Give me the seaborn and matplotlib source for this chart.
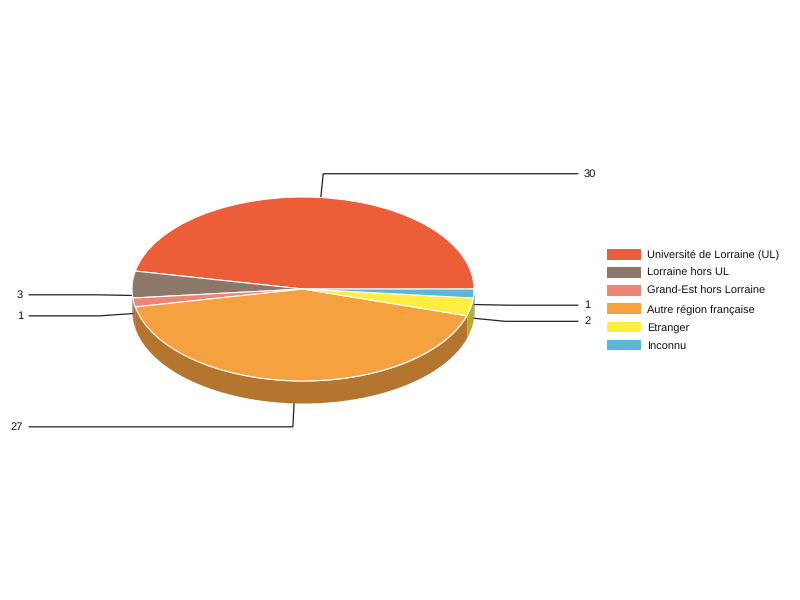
import numpy as np
import matplotlib
matplotlib.use("Agg")
import matplotlib.pyplot as plt
import seaborn as sns
from matplotlib.patches import Patch

labels = [
    "Université de Lorraine (UL)",
    "Lorraine hors UL",
    "Grand-Est hors Lorraine",
    "Autre région française",
    "Etranger",
    "Inconnu",
]
counts = [30, 3, 1, 27, 2, 1]
hex_colors = ["#EB5E38", "#8C7868", "#EF8577", "#F6A13F", "#FFED3F", "#5EB6D6"]

sns.set_theme(style="white")
plt.rcParams["font.family"] = ["Liberation Sans", "DejaVu Sans"]
plt.rcParams["text.hinting"] = "no_hinting"
plt.rcParams["text.kerning_factor"] = 6

palette = sns.color_palette(hex_colors)
side_palette = [tuple(c * 0.73 for c in col) for col in palette]

# pie geometry in pixels, the axes is scaled so the unit circle comes out as the ellipse
cx, cy, rx, ry, depth = 303, 289, 171, 92, 22
W, H = 800, 600

fig = plt.figure(figsize=(8, 6), dpi=100)
ax = fig.add_axes([0, 0, 1, 1])

shares = np.array(counts) / sum(counts) * 360
edges = np.concatenate([[0], np.cumsum(shares)])
mids = (edges[:-1] + edges[1:]) / 2

# leader lines go under the pie, so the top one disappears behind it
for count, mid in zip(counts, mids):
    a = np.deg2rad(mid)
    side = 1 if np.cos(a) > 0 else -1
    start = (np.cos(a), np.sin(a) - depth / 2 / ry)
    reach = 105 + 22 * abs(np.sin(a))
    elbow = ((rx + 35) / rx * np.cos(a), (reach * np.sin(a) - depth / 2) / ry)
    end_x = (578 - cx) / rx if side > 0 else (29 - cx) / rx
    ax.plot([start[0], elbow[0], end_x], [start[1], elbow[1], elbow[1]],
            color="#222222", lw=0.9, zorder=1, solid_joinstyle="miter")
    ax.text(end_x + side * 6 / rx, elbow[1], str(count), fontsize=8,
            color="#111111", va="center", ha="left" if side > 0 else "right")

# side wall, only the front half of the ellipse shows
for i in range(len(counts)):
    lo, hi = max(edges[i], 180), edges[i + 1]
    if hi <= lo:
        continue
    t = np.deg2rad(np.linspace(lo, hi, 120))
    ax.fill_between(np.cos(t), np.sin(t), np.sin(t) - depth / ry,
                    color=side_palette[i], lw=0, zorder=2)

wedges, _ = ax.pie(counts, colors=palette, startangle=0, counterclock=True, radius=1,
                   wedgeprops={"edgecolor": "white", "linewidth": 0.8, "zorder": 3})

# pie() forces equal aspect and its own limits, undo both
ax.set_aspect("auto")
ax.set_xlim(-cx / rx, (W - cx) / rx)
ax.set_ylim(-(H - cy) / ry, cy / ry)
ax.axis("off")

handles = [Patch(facecolor=c, edgecolor="none") for c in palette]
fig.legend(handles, labels, loc="center left", bbox_to_anchor=(602.5 / W, 1 - 300 / H),
           frameon=False, fontsize=7.9, handlelength=3.15, handleheight=1.1,
           handletextpad=0.55, labelspacing=0.62, borderpad=0.4, borderaxespad=0,
           labelcolor="#111111")

fig.savefig("out.png", dpi=100)
